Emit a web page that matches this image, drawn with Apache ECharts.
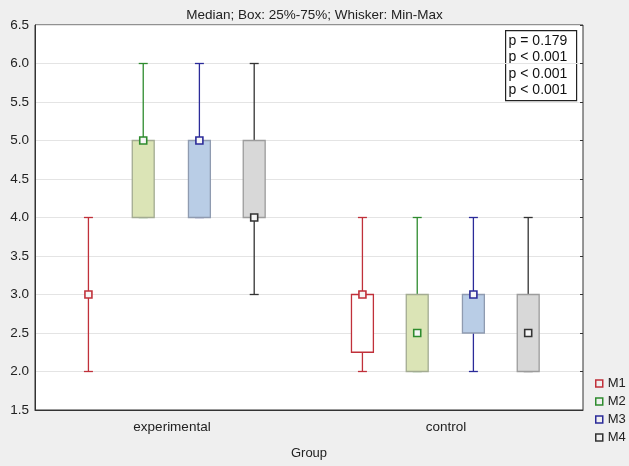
<!DOCTYPE html>
<html>
<head>
<meta charset="utf-8">
<script src="https://cdn.jsdelivr.net/npm/echarts@6/dist/echarts.min.js"></script>
<style>
html,body{margin:0;padding:0;background:#efefef;}
#chart{width:629px;height:466px;}
</style>
</head>
<body>
<div id="chart"></div>
<script>
// ---- data ----
const categories = ['experimental', 'control'];
const seriesNames = ['M1', 'M2', 'M3', 'M4'];
// each entry: [min, q1, median, q3, max] per category
const M1 = [[2, 3, 3, 3, 4], [2, 2.25, 3, 3, 4]];
const M2 = [[4, 4, 5, 5, 6], [2, 2, 2.5, 3, 4]];
const M3 = [[4, 4, 5, 5, 6], [2, 2.5, 3, 3, 4]];
const M4 = [[3, 4, 4, 5, 6], [2, 2, 2.5, 3, 4]];
const yTicks = [1.5, 2.0, 2.5, 3.0, 3.5, 4.0, 4.5, 5.0, 5.5, 6.0, 6.5];
const pValues = ['p = 0.179', 'p < 0.001', 'p < 0.001', 'p < 0.001'];
const titleText = 'Median; Box: 25%-75%; Whisker: Min-Max';

// ---- styles ----
const lineColors = ['#c0303a', '#2e8b2e', '#2b2b99', '#333333'];
const fillColors = ['#ffffff', '#dbe4b6', '#b9cde6', '#d8d8d8'];
const boxBorders = ['#c0303a', '#a3ab92', '#8f9bb0', '#9c9c9c'];
const offsets = [-0.305, -0.105, 0.1, 0.3];
const allData = [M1, M2, M3, M4];
const FONT = '"Liberation Sans", Arial, sans-serif';

function renderItem(params, api) {
  const si = params.seriesIndex;
  const ci = api.value(0);
  const band = api.size([1, 0])[0];
  const cx = api.coord([ci, 0])[0] + offsets[si] * band;
  const bw = 0.08 * band;
  const yMin = api.coord([ci, api.value(1)])[1];
  const yQ1 = api.coord([ci, api.value(2)])[1];
  const yMed = api.coord([ci, api.value(3)])[1];
  const yQ3 = api.coord([ci, api.value(4)])[1];
  const yMax = api.coord([ci, api.value(5)])[1];
  const lc = lineColors[si];
  const capW = 4.5;
  const ls = {stroke: lc, lineWidth: 1.3};
  const children = [
    {type: 'line', shape: {x1: cx, y1: yMin, x2: cx, y2: yQ1}, style: ls},
    {type: 'line', shape: {x1: cx, y1: yQ3, x2: cx, y2: yMax}, style: ls},
    {type: 'line', shape: {x1: cx - capW, y1: yMin, x2: cx + capW, y2: yMin}, style: ls},
    {type: 'line', shape: {x1: cx - capW, y1: yMax, x2: cx + capW, y2: yMax}, style: ls}
  ];
  if (Math.abs(yQ1 - yQ3) > 0.5) {
    children.push({type: 'rect', shape: {x: cx - bw / 2, y: yQ3, width: bw, height: yQ1 - yQ3},
      style: {fill: fillColors[si], stroke: boxBorders[si], lineWidth: 1.3}});
  }
  children.push({type: 'rect', shape: {x: cx - 3.5, y: yMed - 3.5, width: 7, height: 7},
    style: {fill: '#f6f6f6', stroke: lc, lineWidth: 1.6}});
  return {type: 'group', children: children};
}

const series = seriesNames.map((name, si) => ({
  name: name,
  type: 'custom',
  renderItem: renderItem,
  itemStyle: {color: fillColors[si], borderColor: lineColors[si]},
  encode: {x: 0, y: [1, 2, 3, 4, 5]},
  data: allData[si].map((d, ci) => [ci].concat(d)),
  z: 5
}));

const chart = echarts.init(document.getElementById('chart'), null, {renderer: 'canvas'});
chart.setOption({
  backgroundColor: '#efefef',
  animation: false,
  textStyle: {fontFamily: FONT},
  title: {
    text: titleText, left: 'center', top: 3,
    textStyle: {fontSize: 13.5, fontWeight: 'normal', color: '#222', fontFamily: FONT}
  },
  grid: {left: 35, right: 46, top: 25, bottom: 56, show: true, backgroundColor: '#ffffff',
    borderColor: '#333', borderWidth: 1},
  legend: {
    orient: 'vertical', left: 590, top: 372, itemGap: 5, itemWidth: 7, itemHeight: 7,
    icon: 'rect',
    textStyle: {fontSize: 13, color: '#222', fontFamily: FONT, padding: [7, 0, 0, 0]},
    data: seriesNames.map((n, i) => ({name: n, itemStyle: {color: '#f0f0f0', borderColor: lineColors[i], borderWidth: 1.5}}))
  },
  xAxis: [{
    type: 'category', data: categories, boundaryGap: true,
    axisLine: {lineStyle: {color: '#333'}},
    axisTick: {alignWithLabel: true, inside: true, length: 3, lineStyle: {color: '#333'}},
    axisLabel: {fontSize: 13.5, color: '#222', margin: 10, fontFamily: FONT},
    name: 'Group', nameLocation: 'middle', nameGap: 37,
    nameTextStyle: {fontSize: 13, color: '#222', fontFamily: FONT}
  }, {
    type: 'category', data: categories, position: 'top', boundaryGap: true,
    axisLine: {show: false},
    axisTick: {alignWithLabel: true, inside: true, length: 3, lineStyle: {color: '#333'}},
    axisLabel: {show: false}
  }],
  yAxis: [{
    type: 'value', min: yTicks[0], max: yTicks[yTicks.length - 1], interval: 0.5,
    axisLine: {show: true, lineStyle: {color: '#333'}},
    axisTick: {show: false},
    axisLabel: {fontSize: 13.5, color: '#222', margin: 6, fontFamily: FONT,
      formatter: v => Number(v).toFixed(1)},
    splitLine: {show: true, lineStyle: {color: '#e4e4e4', width: 1}}
  }, {
    type: 'value', min: yTicks[0], max: yTicks[yTicks.length - 1], interval: 0.5,
    position: 'right',
    axisLine: {show: false},
    axisTick: {show: true, inside: true, length: 3, lineStyle: {color: '#333'}},
    axisLabel: {show: false},
    splitLine: {show: false}
  }],
  graphic: [{
    type: 'group', left: 505, top: 30,
    children: [
      {type: 'rect', shape: {x: 0, y: 0, width: 71, height: 70},
        style: {fill: '#ffffff', stroke: '#222', lineWidth: 1.2}},
      {type: 'text', left: 3, top: 2, style: {text: pValues.join('\n'), fontSize: 14,
        lineHeight: 16.5, fill: '#111', fontFamily: FONT}}
    ]
  }],
  series: series
});
</script>
</body>
</html>
